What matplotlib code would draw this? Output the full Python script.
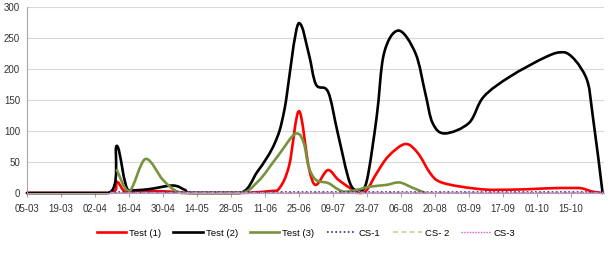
import numpy as np
import matplotlib.pyplot as plt
import matplotlib.dates as mdates
from matplotlib.path import Path
from matplotlib.patches import PathPatch
from matplotlib.lines import Line2D

plt.rcParams['font.family'] = ['Liberation Sans', 'DejaVu Sans']

YEAR = '2011'

# Test (1)
red_dates = ['03-05', '04-07', '04-11', '04-15', '04-24', '05-04', '05-12', '05-31',
             '06-13', '06-17', '06-21', '06-25', '06-29', '07-02', '07-07', '07-11',
             '07-16', '07-20', '07-23', '07-27', '08-01', '08-08', '08-13', '08-18',
             '08-22', '08-31', '09-13', '09-27', '10-10', '10-18', '10-24', '10-28']
red_vals = [0, 0, 18, 2, 3, 2, 0, 0,
            3, 8, 45, 132, 42, 13, 37, 22,
            8, 0, 5, 32, 60, 79, 64, 32,
            18, 10, 5, 6, 8, 8, 2, 0]

# Test (2)
black_dates = ['03-05', '04-07', '04-11', '04-16', '04-24', '05-04', '05-09', '05-12',
               '05-31', '06-08', '06-15', '06-19', '06-25', '06-29', '07-02', '07-07',
               '07-11', '07-16', '07-20', '07-23', '07-27', '07-30', '08-05', '08-12',
               '08-16', '08-19', '08-24', '09-03', '09-09', '09-20', '10-05', '10-12',
               '10-21', '10-24', '10-28']
black_vals = [0, 0, 76, 4, 6, 12, 5, 0,
              0, 35, 80, 134, 274, 225, 175, 163,
              96, 16, 5, 21, 123, 225, 262, 225,
              161, 113, 96, 113, 155, 188, 220, 227,
              188, 123, 0]

# Test (3)
green_dates = ['04-11', '04-16', '04-23', '04-30', '05-06', '05-12', '05-31', '06-08',
               '06-16', '06-24', '06-27', '06-29', '07-02', '07-07', '07-11', '07-14',
               '07-19', '07-24', '07-31', '08-05', '08-11', '08-16']
green_vals = [37, 3, 55, 21, 2, 0, 0, 18,
              58, 96, 80, 42, 21, 16, 6, 2,
              5, 10, 13, 17, 8, 0]

cs_dates = ['04-08', '06-01', '08-01', '10-28']
cs1_vals = [1, 1, 1, 1]
cs2_vals = [0.5, 0.5, 0.5, 0.5]
cs3_vals = [2, 2, 2, 2]

tick_labels = ['05-03', '19-03', '02-04', '16-04', '30-04', '14-05', '28-05', '11-06',
               '25-06', '09-07', '23-07', '06-08', '20-08', '03-09', '17-09', '01-10', '15-10']


def to_num(dates):
    return mdates.date2num(np.array([YEAR + '-' + d for d in dates], dtype='datetime64[D]'))


def smooth_path(x, y):
    # smoothed line: cubic bezier through every point, flat tangent at turning points
    p = np.column_stack([x, y])
    n = len(p)
    tang = np.zeros_like(p)
    for i in range(n):
        a = p[max(i - 1, 0)]
        b = p[min(i + 1, n - 1)]
        tang[i] = (b - a) / 6
        if 0 < i < n - 1 and (p[i, 1] - a[1]) * (b[1] - p[i, 1]) <= 0:
            tang[i, 1] = 0
    verts = [p[0]]
    codes = [Path.MOVETO]
    for i in range(n - 1):
        verts += [p[i] + tang[i], p[i + 1] - tang[i + 1], p[i + 1]]
        codes += [Path.CURVE4] * 3
    return Path(verts, codes)


fig = plt.figure(figsize=(6.12, 2.59), dpi=100)
ax = fig.add_axes([0.044, 0.255, 0.943, 0.718])

series = [
    ('Test (1)', red_dates, red_vals, '#ff0000', '-', 1.9, True),
    ('Test (2)', black_dates, black_vals, '#000000', '-', 1.9, True),
    ('Test (3)', green_dates, green_vals, '#77933c', '-', 1.9, True),
    ('CS-1', cs_dates, cs1_vals, '#2e2e8c', (0, (1, 1.5)), 1.2, False),
    ('CS- 2', cs_dates, cs2_vals, '#c3cf9a', (0, (3, 2)), 1.2, False),
    ('CS-3', cs_dates, cs3_vals, '#dd55dd', (0, (1, 1)), 1.0, False),
]

handles = []
for label, dates, vals, color, ls, lw, smooth in series:
    xs = to_num(dates)
    if smooth:
        patch = PathPatch(smooth_path(xs, np.array(vals, float)), fill=False,
                          edgecolor=color, lw=lw, capstyle='round', joinstyle='round',
                          clip_on=False)
        ax.add_patch(patch)
    else:
        ax.plot(xs, vals, color=color, ls=ls, lw=lw, clip_on=False)
    handles.append(Line2D([], [], color=color, ls=ls, lw=lw, label=label))

start = to_num(['03-05'])[0]
ticks = start + 14 * np.arange(len(tick_labels))
ax.set_xticks(ticks)
ax.set_xticklabels(tick_labels)
ax.set_xlim(start, start + 237.6)
ax.set_ylim(0, 300)
ax.set_yticks(np.arange(0, 301, 50))

ax.grid(axis='y', color='#d9d9d9', lw=0.8)
ax.set_axisbelow(True)
for s in ['top', 'right']:
    ax.spines[s].set_visible(False)
for s in ['left', 'bottom']:
    ax.spines[s].set_color('#a6a6a6')
    ax.spines[s].set_linewidth(0.8)
ax.tick_params(axis='x', length=3, colors='#a6a6a6', labelcolor='#333333', labelsize=7, pad=5)
ax.tick_params(axis='y', length=0, labelsize=7, pad=5, labelcolor='#333333')

fig.legend(handles=handles, loc='center', bbox_to_anchor=(0.5, 0.1), ncol=6,
           frameon=False, fontsize=6.8, handlelength=3.1, columnspacing=1.3, handletextpad=0.3)

fig.savefig('out.png', dpi=100)
